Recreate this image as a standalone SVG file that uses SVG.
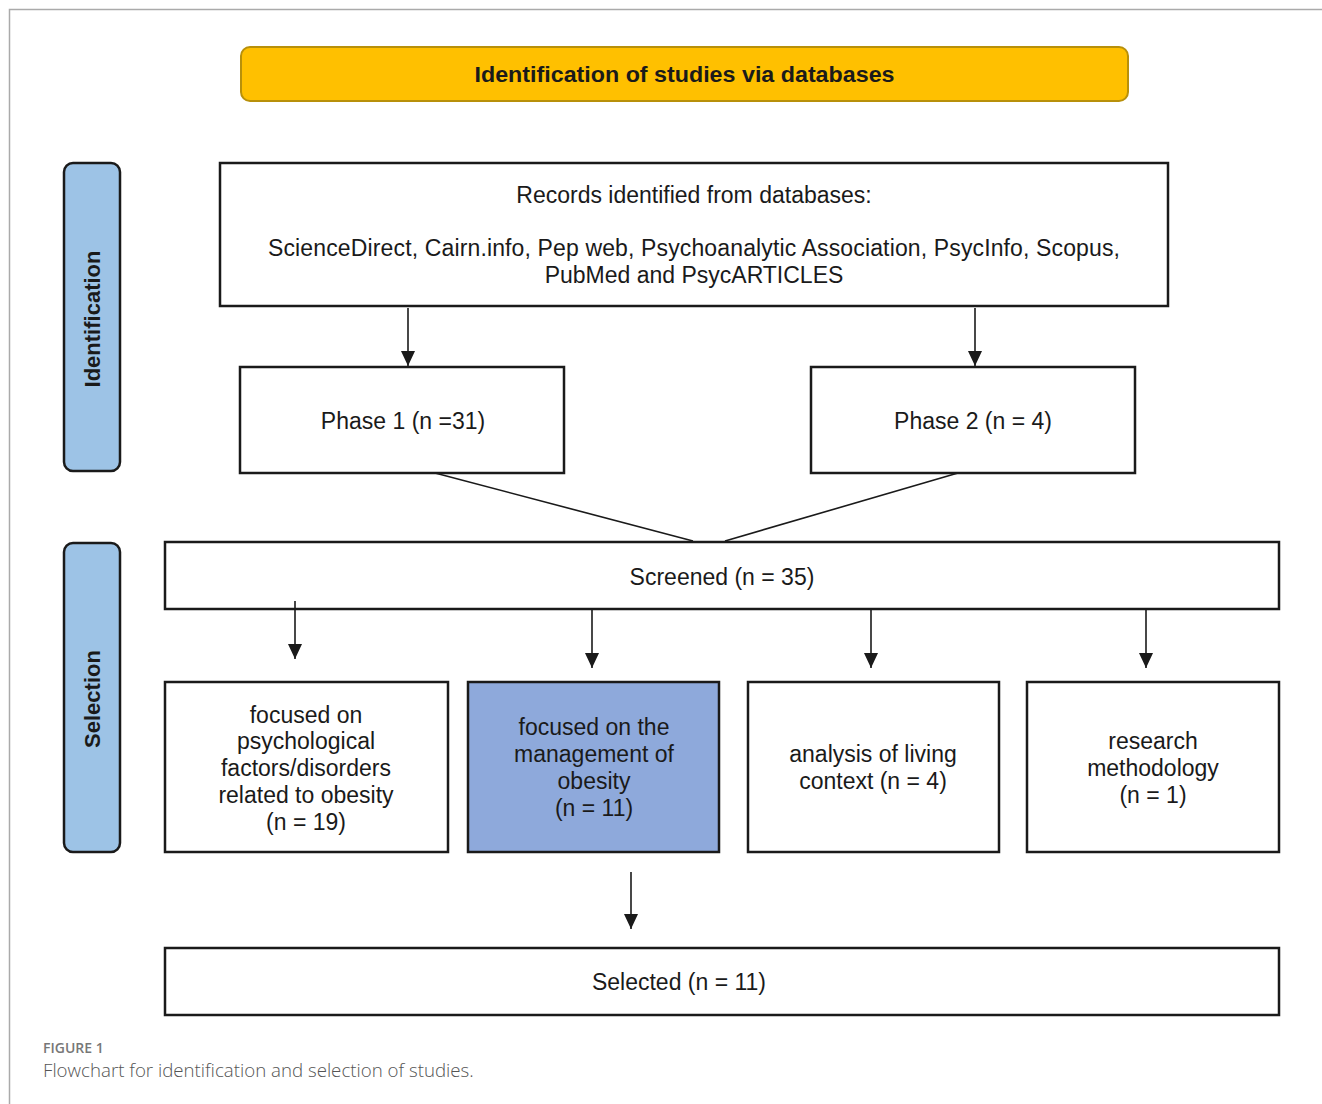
<svg xmlns="http://www.w3.org/2000/svg" width="1322" height="1104" viewBox="0 0 1322 1104">
<defs>
<style>
.box{fill:#fff;stroke:#1a1a1a;stroke-width:2.5}
.t{font-family:"Liberation Sans",Arial,sans-serif;font-size:23px;fill:#1a1a1a;text-anchor:middle}
.side{fill:#9DC3E6;stroke:#1a1a1a;stroke-width:2.5}
.st{font-family:"Liberation Sans",Arial,sans-serif;font-size:22px;font-weight:bold;fill:#1a1a1a;text-anchor:middle}
.conn{stroke:#1a1a1a;stroke-width:1.6;fill:none}
</style>
<marker id="ah" markerUnits="userSpaceOnUse" markerWidth="16" markerHeight="16" viewBox="0 0 16 16" refX="15" refY="8" orient="auto">
<path d="M0,1 L15,8 L0,15 Z" fill="#1a1a1a"/>
</marker>
</defs>
<rect width="1322" height="1104" fill="#fff"/>
<path d="M1322,9.5 H9.5 V1104" fill="none" stroke="#aaa" stroke-width="1.5"/>

<g id="header">
<rect x="241" y="47" width="887" height="54" rx="9" fill="#FFC000" stroke="#B8900A" stroke-width="2"/>
<text x="684.5" y="82" class="st" font-size="22" textLength="420" lengthAdjust="spacingAndGlyphs">Identification of studies via databases</text>
</g>

<g id="label-identification">
<rect x="64" y="163" width="56" height="308" rx="9" class="side"/>
<text class="st" transform="translate(100,319) rotate(-90)" font-size="22.5">Identification</text>
</g>
<g id="label-selection">
<rect x="64" y="543" width="56" height="309" rx="9" class="side"/>
<text class="st" transform="translate(100,699) rotate(-90)" font-size="22.5">Selection</text>
</g>

<g id="records">
<rect x="220" y="163" width="948" height="143" class="box"/>
<text x="694" y="203" class="t" font-size="22.3">Records identified from databases:</text>
<text x="694" y="256" class="t" font-size="22.3" textLength="852" lengthAdjust="spacing">ScienceDirect, Cairn.info, Pep web, Psychoanalytic Association, PsycInfo, Scopus,</text>
<text x="694" y="283" class="t" font-size="22.3">PubMed and PsycARTICLES</text>
</g>

<g id="phase1">
<rect x="240" y="367" width="324" height="106" class="box"/>
<text x="403" y="429" class="t">Phase 1 (n =31)</text>
</g>
<g id="phase2">
<rect x="811" y="367" width="324" height="106" class="box"/>
<text x="973" y="429" class="t">Phase 2 (n = 4)</text>
</g>

<g id="screened">
<rect x="165" y="542" width="1114" height="67" class="box"/>
<text x="722" y="585" class="t">Screened (n = 35)</text>
</g>

<g id="psychological">
<rect x="165" y="682" width="283" height="170" class="box"/>
<text x="306" y="723" class="t">focused on</text>
<text x="306" y="749" class="t">psychological</text>
<text x="306" y="776" class="t">factors/disorders</text>
<text x="306" y="803" class="t">related to obesity</text>
<text x="306" y="830" class="t">(n = 19)</text>
</g>
<g id="management">
<rect x="468" y="682" width="251" height="170" fill="#8EA9DB" stroke="#1a1a1a" stroke-width="2.5"/>
<text x="594" y="735" class="t">focused on the</text>
<text x="594" y="762" class="t">management of</text>
<text x="594" y="789" class="t">obesity</text>
<text x="594" y="816" class="t">(n = 11)</text>
</g>
<g id="living">
<rect x="748" y="682" width="251" height="170" class="box"/>
<text x="873" y="762" class="t">analysis of living</text>
<text x="873" y="789" class="t">context (n = 4)</text>
</g>
<g id="methodology">
<rect x="1027" y="682" width="252" height="170" class="box"/>
<text x="1153" y="749" class="t">research</text>
<text x="1153" y="776" class="t">methodology</text>
<text x="1153" y="803" class="t">(n = 1)</text>
</g>

<g id="selected">
<rect x="165" y="948" width="1114" height="67" class="box"/>
<text x="679" y="990" class="t">Selected (n = 11)</text>
</g>

<g id="connectors">
<line x1="408" y1="308" x2="408" y2="366" class="conn" marker-end="url(#ah)"/>
<line x1="975" y1="308" x2="975" y2="366" class="conn" marker-end="url(#ah)"/>
<line x1="435" y1="473" x2="693" y2="541" class="conn"/>
<line x1="958" y1="473" x2="725" y2="541" class="conn"/>
<line x1="295" y1="601" x2="295" y2="659" class="conn" marker-end="url(#ah)"/>
<line x1="592" y1="610" x2="592" y2="668" class="conn" marker-end="url(#ah)"/>
<line x1="871" y1="610" x2="871" y2="668" class="conn" marker-end="url(#ah)"/>
<line x1="1146" y1="610" x2="1146" y2="668" class="conn" marker-end="url(#ah)"/>
<line x1="631" y1="872" x2="631" y2="929" class="conn" marker-end="url(#ah)"/>
</g>

<g id="caption">
<text x="43" y="1053" font-family="'Open Sans','Liberation Sans',sans-serif" font-size="14" font-weight="600" fill="#777">FIGURE 1</text>
<text x="43" y="1077" font-family="'Open Sans','Liberation Sans',sans-serif" font-size="18.7" font-weight="300" fill="#555">Flowchart for identification and selection of studies.</text>
</g>
</svg>
